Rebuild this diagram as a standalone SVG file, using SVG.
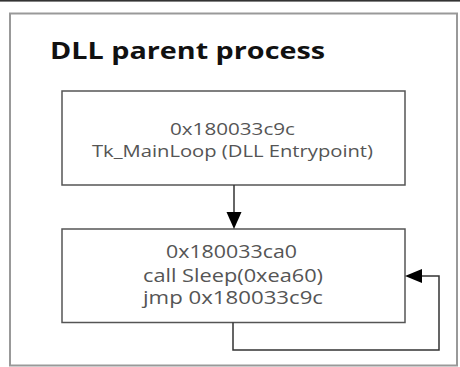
<svg xmlns="http://www.w3.org/2000/svg" width="460" height="367" viewBox="0 0 460 367">
<style>
.node{fill:#fff;stroke:#555;stroke-width:1.5}
.t{font-family:"Open Sans","Liberation Sans",sans-serif;fill:#555;text-anchor:middle}
.t1{font-size:16.5px}
.t2{font-size:18px}
.c{fill:none;stroke:#333;stroke-width:1.5}
</style>
<rect width="460" height="367" fill="#fff"/>
<rect x="0" y="0" width="460" height="1.6" fill="#333"/>
<g id="parent">
<rect x="10" y="13.5" width="447" height="352" fill="#fff" stroke="#999" stroke-width="2"/>
<text x="50" y="59" font-family="'Open Sans','Liberation Sans',sans-serif" font-size="24" font-weight="bold" fill="#111" textLength="275" lengthAdjust="spacingAndGlyphs">DLL parent process</text>
</g>
<g id="node1">
<rect class="node" x="62" y="91" width="343" height="94"/>
<text class="t t1" x="232.5" y="135" textLength="125" lengthAdjust="spacingAndGlyphs">0x180033c9c</text>
<text class="t t1" x="232.5" y="157" textLength="281" lengthAdjust="spacingAndGlyphs">Tk_MainLoop (DLL Entrypoint)</text>
</g>
<g id="node2">
<rect class="node" x="62" y="229" width="343" height="93.5"/>
<text class="t t2" x="231.5" y="258" textLength="131" lengthAdjust="spacingAndGlyphs">0x180033ca0</text>
<text class="t t2" x="233" y="282" textLength="180" lengthAdjust="spacingAndGlyphs">call Sleep(0xea60)</text>
<text class="t t2" x="233" y="304" textLength="180" lengthAdjust="spacingAndGlyphs">jmp 0x180033c9c</text>
</g>
<g id="connectors">
<path class="c" d="M234,185 V212"/>
<path d="M226.5,212 L241.5,212 L234,229 Z" fill="#000"/>
<path class="c" d="M233,322.5 V350 H439 V276 H422"/>
<path d="M422,269 L422,283 L405,276 Z" fill="#000"/>
</g>
</svg>
